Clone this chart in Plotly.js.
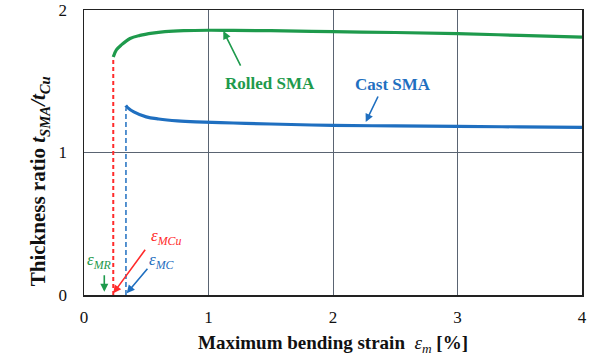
<!DOCTYPE html>
<html><head><meta charset="utf-8">
<script src="https://cdn.plot.ly/plotly-3.0.1.min.js"></script>
<style>html,body{margin:0;padding:0;background:#fff}#c{width:591px;height:361px}</style>
</head><body>
<div id="c"></div>
<script>
const rolledX = [0.235, 0.26, 0.30, 0.37, 0.45, 0.55, 0.65, 0.8, 1.0, 1.2, 1.5, 2.0, 2.5, 3.0, 3.5, 4.0];
const rolledY = [1.67, 1.72, 1.755, 1.80, 1.822, 1.838, 1.848, 1.855, 1.858, 1.857, 1.855, 1.848, 1.842, 1.834, 1.822, 1.81];
const castX = [0.335, 0.35, 0.40, 0.5, 0.6, 0.75, 0.9, 1.2, 1.5, 2.0, 2.5, 3.0, 3.5, 4.0];
const castY = [1.33, 1.315, 1.285, 1.25, 1.235, 1.222, 1.215, 1.207, 1.2, 1.19, 1.187, 1.183, 1.18, 1.177];
const epsMCuX = [0.235, 0.235];
const epsMCuY = [0, 1.67];
const epsMCX = [0.337, 0.337];
const epsMCY = [0, 1.31];
const xTicks = [0, 1, 2, 3, 4];
const yTicks = [0, 1, 2];

const green = '#1e9a4c', blue = '#1f6fc0', red = '#ff2b2b';
const FAM = 'Liberation Serif';

const data = [
  {x: epsMCuX, y: epsMCuY, mode: 'lines', line: {color: red, width: 2, dash: '4px,3px'}, hoverinfo: 'skip'},
  {x: epsMCX, y: epsMCY, mode: 'lines', line: {color: blue, width: 1.5, dash: '5px,3px'}, hoverinfo: 'skip'},
  {x: rolledX, y: rolledY, mode: 'lines', line: {color: green, width: 3.2, shape: 'spline'}},
  {x: castX, y: castY, mode: 'lines', line: {color: blue, width: 3.2, shape: 'spline'}}
];

function arrow(x, y, ax, ay, color) {
  return {x, y, ax, ay, axref: 'pixel', ayref: 'pixel', text: '', showarrow: true,
          arrowhead: 2, arrowsize: 1, arrowwidth: 1.6, arrowcolor: color};
}
function label(x, y, text, color, size, bold) {
  return {x, y, text: bold ? '<b>' + text + '</b>' : text, showarrow: false, font: {family: FAM, size: size, color: color}};
}

const layout = {
  width: 591, height: 361,
  margin: {l: 84, r: 9, t: 10, b: 66},
  paper_bgcolor: '#fff', plot_bgcolor: '#fff',
  showlegend: false,
  font: {family: FAM, size: 17, color: '#111'},
  xaxis: {range: [0, 4], tickvals: xTicks, ticktext: xTicks.map(String), showgrid: true,
          gridcolor: '#5a6472', gridwidth: 1, zeroline: false, showline: true, linecolor: '#222',
          linewidth: 1.5, mirror: true, ticks: '', ticklabelstandoff: 6, tickfont: {family: FAM, size: 17, color: '#111'},
          title: {text: '<b>Maximum bending strain  </b><i>ε<sub>m</sub></i><b> [%]</b>', font: {family: FAM, size: 19, color: '#111'}, standoff: 10}},
  yaxis: {range: [0, 2], tickvals: yTicks, ticktext: yTicks.map(String), showgrid: true,
          gridcolor: '#5a6472', gridwidth: 1, zeroline: false, showline: true, linecolor: '#222',
          linewidth: 1.5, mirror: true, ticks: '', ticklabelstandoff: 12, tickfont: {family: FAM, size: 17, color: '#111'}},
  annotations: [
    {xref: 'paper', yref: 'paper', x: -0.12, y: 0.40, textangle: -90, showarrow: false,
     text: '<b>Thickness ratio </b><b><i>t<sub>SMA</sub>/t<sub>Cu</sub></i></b>',
     font: {family: FAM, size: 21, color: '#111'}},
    label(1.494, 1.486, 'Rolled SMA', green, 17, true),
    label(2.482, 1.479, 'Cast SMA', blue, 17, true),
    label(0.124, 0.238, '<i>ε<sub>MR</sub></i>', green, 17, false),
    label(0.66, 0.405, '<i>ε<sub>MCu</sub></i>', red, 17, false),
    label(0.63, 0.238, '<i>ε<sub>MC</sub></i>', blue, 17, false),
    arrow(1.119, 1.852, 18, 36, green),
    arrow(2.263, 1.214, 13, -27, blue),
    arrow(0.163, 0.023, 0, -18, green),
    arrow(0.235, 0.012, 33, -45, red),
    arrow(0.343, 0.012, 22, -26, blue)
  ]
};
Plotly.newPlot('c', data, layout, {displayModeBar: false, staticPlot: true});
</script></body></html>
